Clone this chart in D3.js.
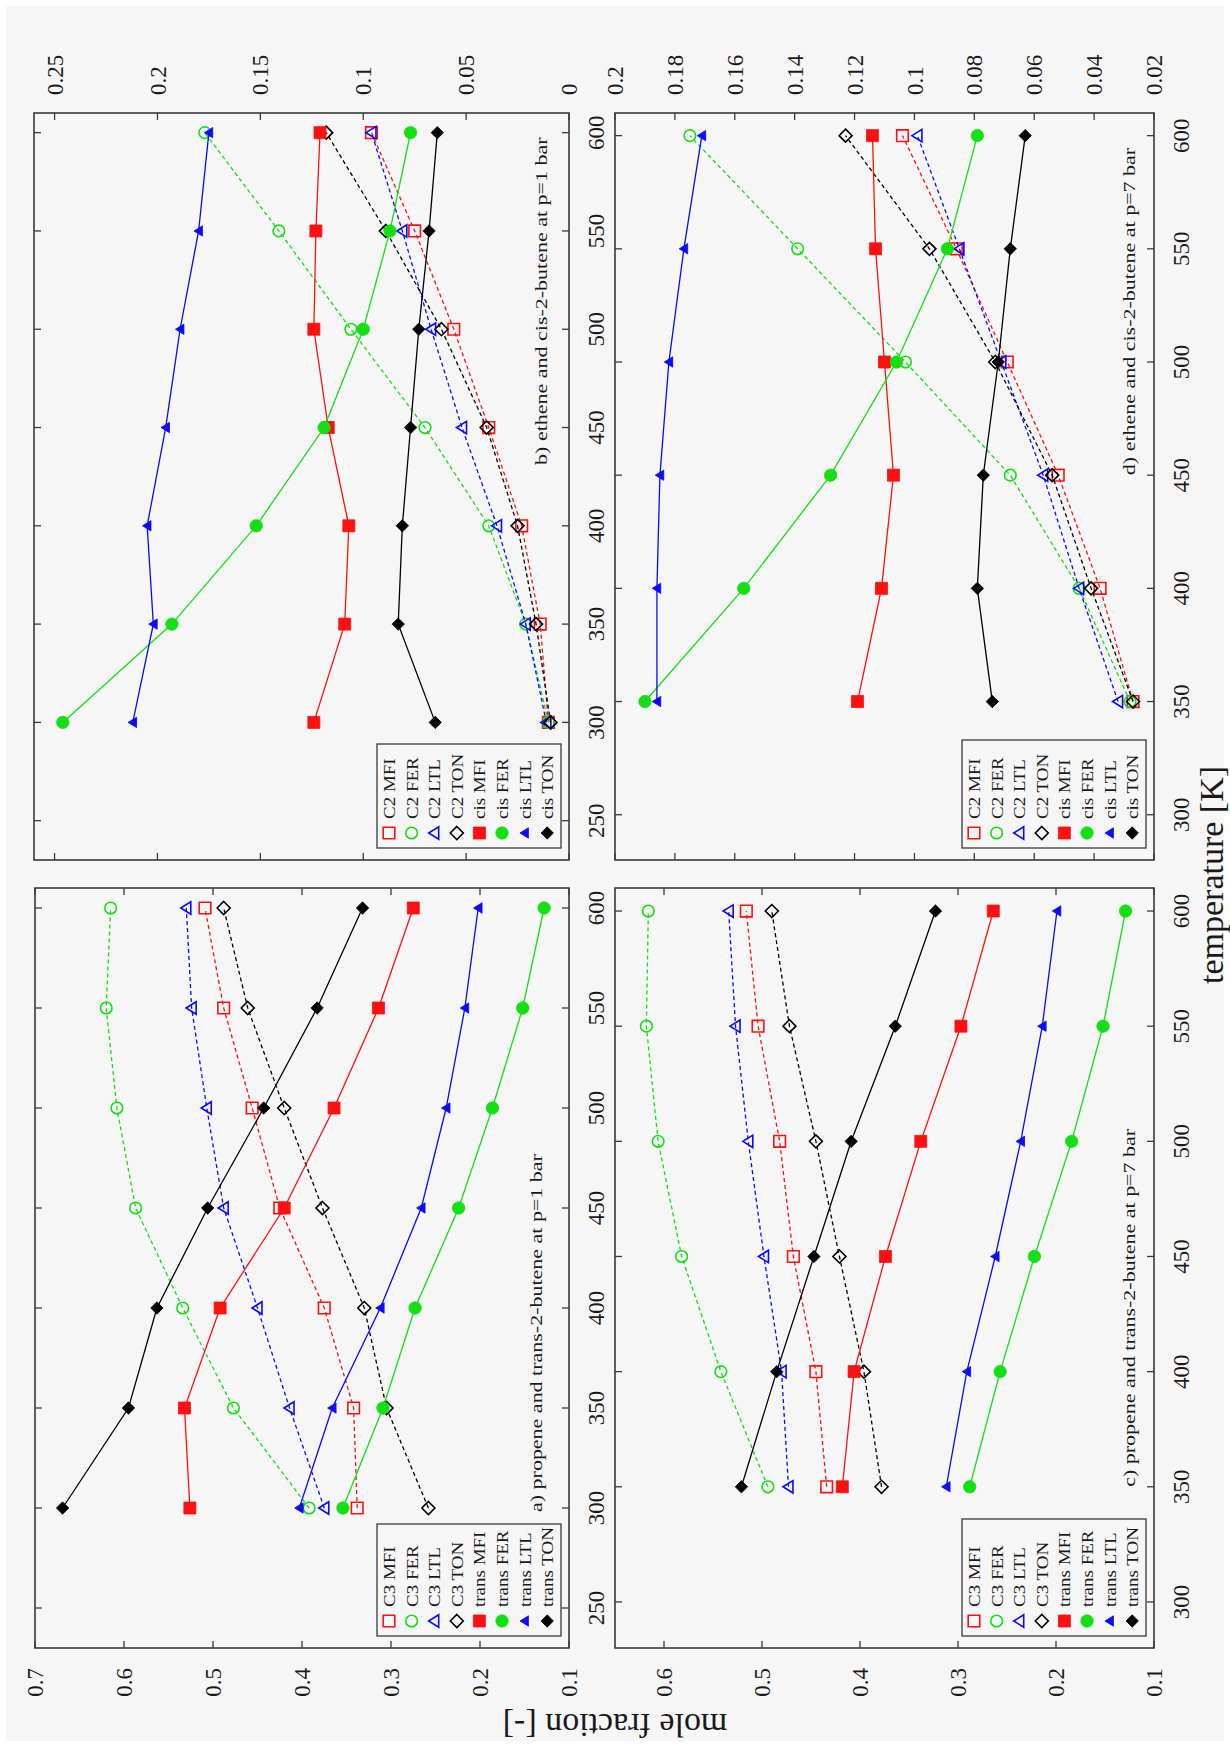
<!DOCTYPE html>
<html>
<head>
<meta charset="utf-8">
<script src="https://cdn.jsdelivr.net/npm/d3@7"></script>
<style>
  body { margin: 0; background: #ffffff; }
  svg { display: block; }
  text { font-family: "Liberation Serif", "Times New Roman", serif; fill: #1a1a1a; }
</style>
</head>
<body>
<svg id="chart" width="1230" height="1747"></svg>
<script>
// ---------------- DATA ----------------
const tempsP1 = [300, 350, 400, 450, 500, 550, 600];   // panels a, b (p = 1 bar)
const tempsP7 = [350, 400, 450, 500, 550, 600];        // panels c, d (p = 7 bar)

const namesC3 = ["C3 MFI", "C3 FER", "C3 LTL", "C3 TON", "trans MFI", "trans FER", "trans LTL", "trans TON"];
const namesC2 = ["C2 MFI", "C2 FER", "C2 LTL", "C2 TON", "cis MFI", "cis FER", "cis LTL", "cis TON"];

// a) propene and trans-2-butene at p=1 bar
const a_C3_MFI    = [0.338, 0.342, 0.375, 0.425, 0.456, 0.488, 0.509];
const a_C3_FER    = [0.392, 0.477, 0.534, 0.587, 0.608, 0.620, 0.615];
const a_C3_LTL    = [0.375, 0.414, 0.450, 0.488, 0.507, 0.524, 0.530];
const a_C3_TON    = [0.258, 0.305, 0.330, 0.377, 0.420, 0.461, 0.488];
const a_trans_MFI = [0.526, 0.532, 0.492, 0.420, 0.364, 0.314, 0.275];
const a_trans_FER = [0.354, 0.309, 0.273, 0.224, 0.186, 0.152, 0.128];
const a_trans_LTL = [0.403, 0.366, 0.312, 0.266, 0.238, 0.217, 0.202];
const a_trans_TON = [0.669, 0.595, 0.563, 0.506, 0.443, 0.383, 0.332];

// b) ethene and cis-2-butene at p=1 bar
const b_C2_MFI  = [0.010, 0.014, 0.023, 0.039, 0.056, 0.075, 0.096];
const b_C2_FER  = [0.010, 0.021, 0.039, 0.070, 0.106, 0.141, 0.177];
const b_C2_LTL  = [0.011, 0.021, 0.035, 0.052, 0.067, 0.081, 0.096];
const b_C2_TON  = [0.009, 0.016, 0.025, 0.040, 0.062, 0.089, 0.118];
const b_cis_MFI = [0.124, 0.109, 0.107, 0.117, 0.124, 0.123, 0.121];
const b_cis_FER = [0.246, 0.193, 0.152, 0.119, 0.100, 0.087, 0.077];
const b_cis_LTL = [0.212, 0.202, 0.205, 0.196, 0.189, 0.180, 0.175];
const b_cis_TON = [0.065, 0.083, 0.081, 0.077, 0.073, 0.068, 0.064];

// c) propene and trans-2-butene at p=7 bar
const c_C3_MFI    = [0.434, 0.445, 0.468, 0.482, 0.504, 0.516];
const c_C3_FER    = [0.494, 0.542, 0.582, 0.606, 0.618, 0.616];
const c_C3_LTL    = [0.473, 0.480, 0.498, 0.514, 0.527, 0.534];
const c_C3_TON    = [0.378, 0.396, 0.421, 0.445, 0.472, 0.490];
const c_trans_MFI = [0.418, 0.406, 0.374, 0.338, 0.297, 0.264];
const c_trans_FER = [0.288, 0.257, 0.222, 0.184, 0.152, 0.129];
const c_trans_LTL = [0.312, 0.291, 0.262, 0.236, 0.214, 0.199];
const c_trans_TON = [0.521, 0.485, 0.447, 0.409, 0.364, 0.323];

// d) ethene and cis-2-butene at p=7 bar
const d_C2_MFI  = [0.027, 0.038, 0.052, 0.069, 0.086, 0.104];
const d_C2_FER  = [0.028, 0.045, 0.068, 0.103, 0.139, 0.175];
const d_C2_LTL  = [0.032, 0.045, 0.057, 0.071, 0.085, 0.099];
const d_C2_TON  = [0.027, 0.041, 0.054, 0.073, 0.095, 0.123];
const d_cis_MFI = [0.119, 0.111, 0.107, 0.110, 0.113, 0.114];
const d_cis_FER = [0.190, 0.157, 0.128, 0.106, 0.089, 0.079];
const d_cis_LTL = [0.186, 0.186, 0.185, 0.182, 0.177, 0.171];
const d_cis_TON = [0.074, 0.079, 0.077, 0.072, 0.068, 0.063];

// tick values
const ticksMoleA = [0.7, 0.6, 0.5, 0.4, 0.3, 0.2, 0.1];
const ticksMoleB = [0.25, 0.2, 0.15, 0.1, 0.05, 0];
const ticksMoleC = [0.6, 0.5, 0.4, 0.3, 0.2, 0.1];
const ticksMoleD = [0.2, 0.18, 0.16, 0.14, 0.12, 0.1, 0.08, 0.06, 0.04, 0.02];
const ticksTempP1 = [250, 300, 350, 400, 450, 500, 550, 600];
const ticksTempP7 = [300, 350, 400, 450, 500, 550, 600];

const titles = {
  a: "a) propene and trans-2-butene at p=1 bar",
  b: "b) ethene and cis-2-butene at p=1 bar",
  c: "c) propene and trans-2-butene at p=7 bar",
  d: "d) ethene and cis-2-butene at p=7 bar"
};
const xTitle = "temperature [K]";
const yTitle = "mole fraction [-]";

// ---------------- STYLE / LAYOUT ----------------
const RED = "#ff1010", GREEN = "#12e012", BLUE = "#0a0aff", BLACK = "#000000";
const seriesStyles = [
  { color: RED,   shape: "square",   filled: false, dashed: true },
  { color: GREEN, shape: "circle",   filled: false, dashed: true },
  { color: BLUE,  shape: "triangle", filled: false, dashed: true },
  { color: BLACK, shape: "diamond",  filled: false, dashed: true },
  { color: RED,   shape: "square",   filled: true,  dashed: false },
  { color: GREEN, shape: "circle",   filled: true,  dashed: false },
  { color: BLUE,  shape: "triangle", filled: true,  dashed: false },
  { color: BLACK, shape: "diamond",  filled: true,  dashed: false }
];

const panels = [
  { key: "a", x0: 35,  x1: 569,  y0: 888, y1: 1648, mDom: [0.7, 0.1],  tDom: [230, 610],
    temps: tempsP1, names: namesC3, mTicks: ticksMoleA, tTicks: ticksTempP1, side: "bottom",
    series: [a_C3_MFI, a_C3_FER, a_C3_LTL, a_C3_TON, a_trans_MFI, a_trans_FER, a_trans_LTL, a_trans_TON],
    titleT: 298, titleOff: 27, legendH: 112 },
  { key: "b", x0: 34,  x1: 569,  y0: 113, y1: 860,  mDom: [0.26, 0],   tDom: [230, 610],
    temps: tempsP1, names: namesC2, mTicks: ticksMoleB, tTicks: ticksTempP1, side: "top",
    series: [b_C2_MFI, b_C2_FER, b_C2_LTL, b_C2_TON, b_cis_MFI, b_cis_FER, b_cis_LTL, b_cis_TON],
    titleT: 431, titleOff: 22, legendH: 104 },
  { key: "c", x0: 615, x1: 1154, y0: 888, y1: 1648, mDom: [0.65, 0.1], tDom: [280, 610],
    temps: tempsP7, names: namesC3, mTicks: ticksMoleC, tTicks: ticksTempP7, side: "bottom",
    series: [c_C3_MFI, c_C3_FER, c_C3_LTL, c_C3_TON, c_trans_MFI, c_trans_FER, c_trans_LTL, c_trans_TON],
    titleT: 350, titleOff: 19, legendH: 117 },
  { key: "d", x0: 615, x1: 1154, y0: 113, y1: 860,  mDom: [0.2, 0.02], tDom: [280, 610],
    temps: tempsP7, names: namesC2, mTicks: ticksMoleD, tTicks: ticksTempP7, side: "top",
    series: [d_C2_MFI, d_C2_FER, d_C2_LTL, d_C2_TON, d_cis_MFI, d_cis_FER, d_cis_LTL, d_cis_TON],
    titleT: 450, titleOff: 19, legendH: 108 }
];

// marker path generator (centered at 0,0)
function markerPath(shape, filled) {
  const p = d3.path();
  if (shape === "square") {
    const h = filled ? 6 : 5.8;
    p.rect(-h, -h, 2 * h, 2 * h);
  } else if (shape === "circle") {
    const r = filled ? 6.2 : 5.8;
    p.arc(0, 0, r, 0, 2 * Math.PI);
  } else if (shape === "triangle") {
    // pointing left (figure is rotated)
    const w = filled ? 8.5 : 10, hh = filled ? 5.2 : 6.2;
    p.moveTo(-w * 0.55, 0);
    p.lineTo(w * 0.45, -hh);
    p.lineTo(w * 0.45, hh);
    p.closePath();
  } else {
    const h = filled ? 6.2 : 6.5;
    p.moveTo(0, -h); p.lineTo(h, 0); p.lineTo(0, h); p.lineTo(-h, 0); p.closePath();
  }
  return p.toString();
}

// ---------------- DRAW ----------------
const svg = d3.select("#chart");
svg.append("rect").attr("x", 0).attr("y", 0).attr("width", 1230).attr("height", 1747).attr("fill", "#ffffff");
svg.append("rect").attr("x", 6).attr("y", 6).attr("width", 1218).attr("height", 1735).attr("fill", "#f6f6f6");

const TICK = 7;
const FRAME = "#3a3a3a";

panels.forEach(P => {
  const g = svg.append("g").attr("class", "panel-" + P.key);
  const mx = d3.scaleLinear().domain(P.mDom).range([P.x0, P.x1]);
  const ty = d3.scaleLinear().domain(P.tDom).range([P.y1, P.y0]);

  // tick marks (mirrored on all sides, pointing inward)
  const tk = g.append("g").attr("stroke", FRAME).attr("stroke-width", 1.3);
  P.mTicks.forEach(v => {
    tk.append("line").attr("x1", mx(v)).attr("x2", mx(v)).attr("y1", P.y0).attr("y2", P.y0 + TICK);
    tk.append("line").attr("x1", mx(v)).attr("x2", mx(v)).attr("y1", P.y1).attr("y2", P.y1 - TICK);
  });
  P.tTicks.forEach(v => {
    tk.append("line").attr("x1", P.x0).attr("x2", P.x0 + TICK).attr("y1", ty(v)).attr("y2", ty(v));
    tk.append("line").attr("x1", P.x1).attr("x2", P.x1 - TICK).attr("y1", ty(v)).attr("y2", ty(v));
  });

  // mole fraction tick labels (rotated, reading upward)
  P.mTicks.forEach(v => {
    const y = P.side === "bottom" ? P.y1 + 20 : P.y0 - 18;
    g.append("text")
      .attr("transform", `translate(${mx(v)},${y}) rotate(-90)`)
      .attr("dy", "0.35em")
      .attr("text-anchor", P.side === "bottom" ? "end" : "start")
      .attr("font-size", 23)
      .text(String(v));
  });
  // temperature tick labels (right side)
  P.tTicks.forEach(v => {
    g.append("text")
      .attr("transform", `translate(${P.x1 + 27},${ty(v)}) rotate(-90)`)
      .attr("dy", "0.35em")
      .attr("text-anchor", "middle")
      .attr("font-size", 23)
      .text(String(v));
  });

  // series
  const line = d3.line().x(d => mx(d.v)).y(d => ty(d.t));
  P.series.forEach((vals, i) => {
    const st = seriesStyles[i];
    const pts = vals.map((v, j) => ({ v: v, t: P.temps[j] }));
    g.append("path")
      .datum(pts)
      .attr("d", line)
      .attr("fill", "none")
      .attr("stroke", st.color)
      .attr("stroke-width", 1.3)
      .attr("stroke-dasharray", st.dashed ? "4,3" : null);
    g.selectAll(null)
      .data(pts)
      .enter()
      .append("path")
      .attr("transform", d => `translate(${mx(d.v)},${ty(d.t)})`)
      .attr("d", markerPath(st.shape, st.filled))
      .attr("fill", st.filled ? st.color : "none")
      .attr("stroke", st.color)
      .attr("stroke-width", st.filled ? 0.8 : 1.6);
  });

  // panel title
  g.append("text")
    .attr("transform", `translate(${P.x1 - P.titleOff},${ty(P.titleT)}) scale(0.8,1) rotate(-90)`)
    .attr("text-anchor", "start")
    .attr("font-size", 22)
    .text(titles[P.key]);

  // legend
  const bw = 184, bh = P.legendH;
  const bx = P.x1 - 8 - bw, by = P.y1 - 12 - bh;
  const lg = g.append("g");
  lg.append("rect").attr("x", bx).attr("y", by).attr("width", bw).attr("height", bh)
    .attr("fill", "#f6f6f6").attr("stroke", FRAME).attr("stroke-width", 1.3);
  P.names.forEach((name, i) => {
    const st = seriesStyles[i];
    const cx = bx + 12 + i * 22.6;
    lg.append("path")
      .attr("transform", `translate(${cx},${by + bh - 15})`)
      .attr("d", markerPath(st.shape, st.filled))
      .attr("fill", st.filled ? st.color : "none")
      .attr("stroke", st.color)
      .attr("stroke-width", st.filled ? 0.8 : 1.6);
    lg.append("text")
      .attr("transform", `translate(${cx + 6},${by + bh - 29}) scale(0.85,1) rotate(-90)`)
      .attr("text-anchor", "start")
      .attr("font-size", 19)
      .text(name);
  });

  // frame
  g.append("rect").attr("x", P.x0).attr("y", P.y0).attr("width", P.x1 - P.x0).attr("height", P.y1 - P.y0)
    .attr("fill", "none").attr("stroke", FRAME).attr("stroke-width", 1.6);
});

// axis titles
svg.append("text")
  .attr("transform", "translate(615,1714) rotate(180)")
  .attr("text-anchor", "middle")
  .attr("font-size", 34)
  .text(yTitle);
svg.append("text")
  .attr("transform", "translate(1223,875) rotate(-90)")
  .attr("text-anchor", "middle")
  .attr("font-size", 34)
  .text(xTitle);
</script>
</body>
</html>
